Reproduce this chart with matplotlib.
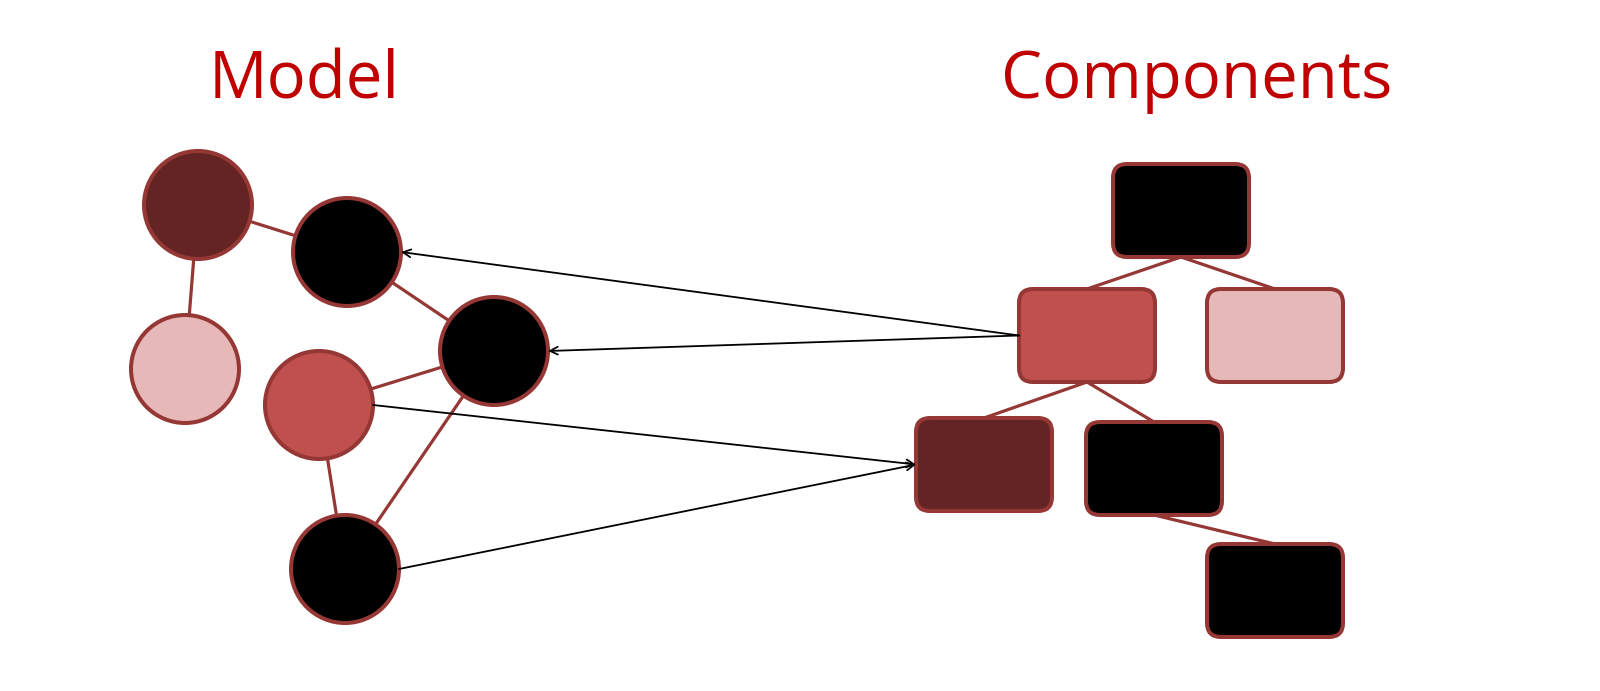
import matplotlib
matplotlib.use("Agg")
import matplotlib.pyplot as plt
from matplotlib.patches import Circle, FancyBboxPatch

# ---- data ----
DARK = "#632423"
RED = "#C0504D"
PINK = "#E6B9B8"
BLACK = "#000000"
EDGE = "#953735"
TITLE = "#C00000"

titles = ["Model", "Components"]
title_x = [304, 1197]
title_y = [98, 98]

circle_x = [198, 347, 185, 494, 319, 345]
circle_y = [205, 252, 369, 351, 405, 569]
circle_r = 54
circle_colors = [DARK, BLACK, PINK, BLACK, RED, BLACK]
circle_edges = [(0, 1), (0, 2), (1, 3), (3, 4), (3, 5), (4, 5)]

box_x = [1113, 1019, 1207, 916, 1086, 1207]   # left
box_y = [164, 289, 289, 418, 422, 544]         # top
box_w = 136
box_h = 93
box_colors = [BLACK, RED, PINK, DARK, BLACK, BLACK]
box_edges = [(0, 1), (0, 2), (1, 3), (1, 4), (4, 5)]

# arrows: (kind, index) source -> target; 'c' circle, 'b' box
arrows = [(("b", 1), ("c", 1)), (("b", 1), ("c", 3)),
          (("c", 4), ("b", 3)), (("c", 5), ("b", 3))]

# ---- drawing ----
fig = plt.figure(figsize=(16, 6.91), dpi=100)
ax = fig.add_axes([0, 0, 1, 1])
ax.set_xlim(0, 1600)
ax.set_ylim(691, 0)
ax.set_aspect("equal")
ax.axis("off")

for t, x, y in zip(titles, title_x, title_y):
    ax.text(x, y, t, color=TITLE, fontsize=47, family="Open Sans",
            ha="center", va="baseline")

# circle graph edges
for a, b in circle_edges:
    ax.plot([circle_x[a], circle_x[b]], [circle_y[a], circle_y[b]],
            color=EDGE, lw=2.3, zorder=1, solid_capstyle="butt")

for x, y, c in zip(circle_x, circle_y, circle_colors):
    ax.add_patch(Circle((x, y), circle_r, facecolor=c, edgecolor=EDGE,
                        lw=2.9, zorder=2))

# tree edges (bottom-centre of parent to top-centre of child)
for a, b in box_edges:
    ax.plot([box_x[a] + box_w / 2, box_x[b] + box_w / 2],
            [box_y[a] + box_h, box_y[b]],
            color=EDGE, lw=2.3, zorder=1, solid_capstyle="butt")

for x, y, c in zip(box_x, box_y, box_colors):
    ax.add_patch(FancyBboxPatch((x, y), box_w, box_h,
                                boxstyle="round,pad=0,rounding_size=14",
                                facecolor=c, edgecolor=EDGE, lw=2.9, zorder=2))


def anchor(node, side):
    kind, i = node
    if kind == "c":
        x, y = circle_x[i], circle_y[i]
        return (x + circle_r, y) if side == "right" else (x - circle_r, y)
    x, y = box_x[i], box_y[i] + box_h / 2
    return (x + box_w, y) if side == "right" else (x, y)


for src, dst in arrows:
    if src[0] == "b":
        p0 = anchor(src, "left")
        p1 = anchor(dst, "right")
    else:
        p0 = anchor(src, "right")
        p1 = anchor(dst, "left")
    ax.annotate("", xy=p1, xytext=p0,
                arrowprops=dict(arrowstyle="->", lw=1.3, color="black",
                                shrinkA=0, shrinkB=0, mutation_scale=14),
                zorder=3)

fig.savefig("out.png", dpi=100, facecolor="white")
